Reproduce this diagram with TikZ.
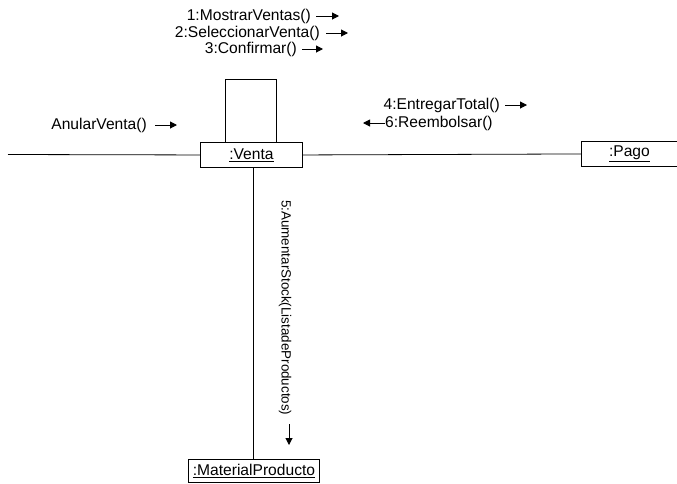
\documentclass[tikz,border=0pt]{standalone}
\usepackage{fontspec}
\setmainfont{Liberation Sans}
\usetikzlibrary{arrows.meta}
\begin{document}
\begin{tikzpicture}[x=1pt,y=-1pt,
  obj/.style={draw,line width=0.9pt,inner sep=0pt,anchor=north west,font=\fontsize{15.6}{15.6}\selectfont},
  link/.style={line width=0.8pt},
  msg/.style={font=\fontsize{15.6}{15.6}\selectfont,inner sep=0pt},
  msgarrow/.style={line width=1pt,-{Triangle[length=7pt,width=7pt]}}]
\useasboundingbox (0,0) rectangle (677,483);
% objects
\node[obj,minimum width=102pt,minimum height=25pt] (venta) at (200,142) {\underline{:Venta}};
\node[obj,minimum width=96pt,minimum height=25pt] (pago) at (581,141) {\underline{:Pago}};
\node[obj,minimum width=131pt,minimum height=23pt] (mat) at (188,459) {\underline{:MaterialProducto}};
% links
\coordinate (leftend) at (8,154.5);
\draw[link] (leftend) -- (venta.west);
\draw[link] (venta.east) -- (pago.west);
\draw[link] (venta.south -| 253,0) -- (mat.north -| 253,0);
% self link
\draw[link] (225,142) -- (225,79) -- (276,79) -- (276,142);
% messages
\node[msg,anchor=east] (m1) at (311,16) {1:MostrarVentas()};
\coordinate (m1e) at (339,16);
\draw[msgarrow] (316,16) -- (m1e);
\node[msg,anchor=east] (m2) at (320,33) {2:SeleccionarVenta()};
\coordinate (m2e) at (348,33);
\draw[msgarrow] (326,33) -- (m2e);
\node[msg,anchor=east] (m3) at (297,49) {3:Confirmar()};
\coordinate (m3e) at (323,49);
\draw[msgarrow] (302,49) -- (m3e);
\node[msg,anchor=east] (anular) at (147,125) {AnularVenta()};
\coordinate (ane) at (177,125);
\draw[msgarrow] (155,125) -- (ane);
\node[msg,anchor=east] (m4) at (500,105) {4:EntregarTotal()};
\coordinate (m4e) at (527,105);
\draw[msgarrow] (505,105) -- (m4e);
\node[msg,anchor=west] (m6) at (385,123) {6:Reembolsar()};
\coordinate (m6e) at (363,123);
\draw[msgarrow] (m6.west) -- (m6e);
\node[msg,anchor=west,rotate=-90,font=\fontsize{13.4}{13.4}\selectfont] (m5) at (285,200) {5:AumentarStock(ListadeProductos)};
\coordinate (m5e) at (289,445);
\draw[msgarrow] (289,424) -- (m5e);
\end{tikzpicture}
\end{document}
